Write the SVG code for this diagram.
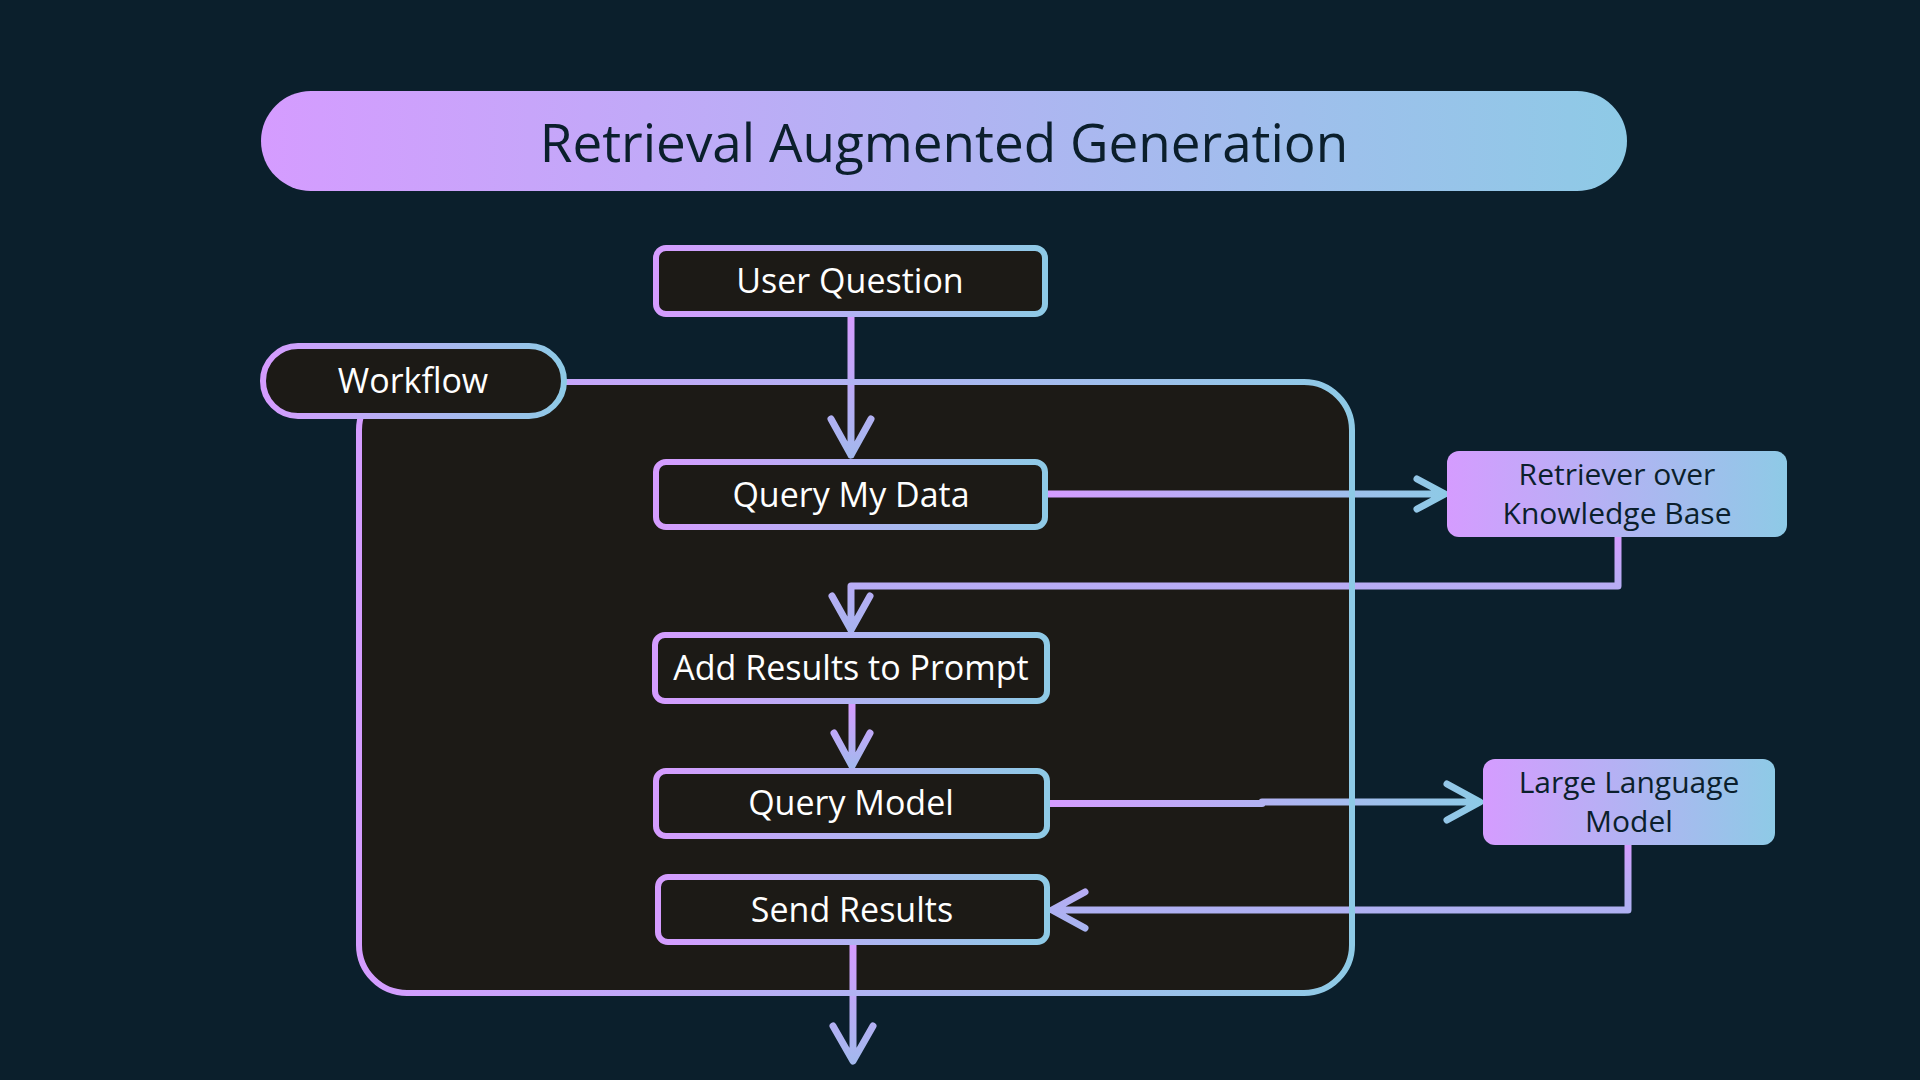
<svg xmlns="http://www.w3.org/2000/svg" width="1920" height="1080" viewBox="0 0 1920 1080">
  <defs>
    <linearGradient id="gH" x1="0" y1="0" x2="1" y2="0">
      <stop offset="0" stop-color="#d59cff"/>
      <stop offset="1" stop-color="#8ecae6"/>
    </linearGradient>
    <linearGradient id="gV" x1="0" y1="0" x2="0" y2="1">
      <stop offset="0" stop-color="#d59cff"/>
      <stop offset="1" stop-color="#a4b8ee"/>
    </linearGradient>
    <linearGradient id="gV2" x1="0" y1="0" x2="0" y2="1">
      <stop offset="0" stop-color="#d59cff"/>
      <stop offset="0.4" stop-color="#bcaaf6"/>
      <stop offset="1" stop-color="#a8b4f0"/>
    </linearGradient>
  </defs>
  <style>
    .bg { fill: #0b1f2c; }
    .node rect { fill: #1c1a16; stroke: url(#gH); stroke-width: 6; }
    .lbl { font-family: "Open Sans", "Noto Sans", sans-serif; font-size: 34px; fill: #ffffff; text-anchor: middle; }
    .dlbl { font-family: "Open Sans", "Noto Sans", sans-serif; font-size: 30px; fill: #0b1f2c; text-anchor: middle; }
    .solid rect { fill: url(#gH); }
    .conn path { fill: none; stroke-width: 7; stroke-linecap: round; stroke-linejoin: round; }
  </style>
  <rect class="bg" x="0" y="0" width="1920" height="1080"/>

  <g id="title">
    <rect x="261" y="91" width="1366" height="100" rx="50" fill="url(#gH)"/>
    <text x="944" y="162" font-family="'Open Sans', 'Noto Sans', sans-serif" font-size="53" fill="#0b1f2c" text-anchor="middle">Retrieval Augmented Generation</text>
  </g>

  <g id="workflow-container">
    <rect x="359" y="382" width="993" height="611" rx="48" fill="#1c1a16"/>
  </g>

  <g id="connectors" class="conn">
    <path d="M851,317 V455 M831,419 L851,455 L871,419" stroke="url(#gV)"/>
    <path d="M1048,494 H1444 M1417,479 L1445,494 L1417,509" stroke="url(#gH)"/>
    <path d="M1618,537 V586 H851 V630 M832,596 L851,630 L870,596" stroke="url(#gV2)"/>
    <path d="M852,704 V765 M834,733 L852,766 L870,733" stroke="url(#gV)"/>
    <path d="M1050,803.5 H1262 V802 H1478 M1447,784 L1480,802 L1447,820" stroke="url(#gH)"/>
    <path d="M1628,845 V910 H1053 M1085,892 L1052,910 L1085,928" stroke="url(#gV2)"/>
    <path d="M853,945 V1060 M833,1026 L853,1061 L873,1026" stroke="url(#gV)"/>
  </g>

  <g id="workflow-border">
    <rect x="359" y="382" width="993" height="611" rx="48" fill="none" stroke="url(#gH)" stroke-width="6"/>
  </g>

  <g id="workflow" class="node">
    <rect x="263" y="346" width="301" height="70" rx="35"/>
    <text class="lbl" x="413" y="393">Workflow</text>
  </g>

  <g id="user-question" class="node">
    <rect x="656" y="248" width="389" height="66" rx="10"/>
    <text class="lbl" x="850" y="293">User Question</text>
  </g>

  <g id="query-my-data" class="node">
    <rect x="656" y="462" width="389" height="65" rx="10"/>
    <text class="lbl" x="851" y="507">Query My Data</text>
  </g>

  <g id="add-results" class="node">
    <rect x="655" y="635" width="392" height="66" rx="10"/>
    <text class="lbl" x="851" y="680">Add Results to Prompt</text>
  </g>

  <g id="query-model" class="node">
    <rect x="656" y="771" width="391" height="65" rx="10"/>
    <text class="lbl" x="851" y="815">Query Model</text>
  </g>

  <g id="send-results" class="node">
    <rect x="658" y="877" width="389" height="65" rx="10"/>
    <text class="lbl" x="852" y="922">Send Results</text>
  </g>

  <g id="retriever" class="solid">
    <rect x="1447" y="451" width="340" height="86" rx="12"/>
    <text class="dlbl" x="1617" y="485">Retriever over</text>
    <text class="dlbl" x="1617" y="524">Knowledge Base</text>
  </g>

  <g id="llm" class="solid">
    <rect x="1483" y="759" width="292" height="86" rx="12"/>
    <text class="dlbl" x="1629" y="793">Large Language</text>
    <text class="dlbl" x="1629" y="832">Model</text>
  </g>
</svg>
